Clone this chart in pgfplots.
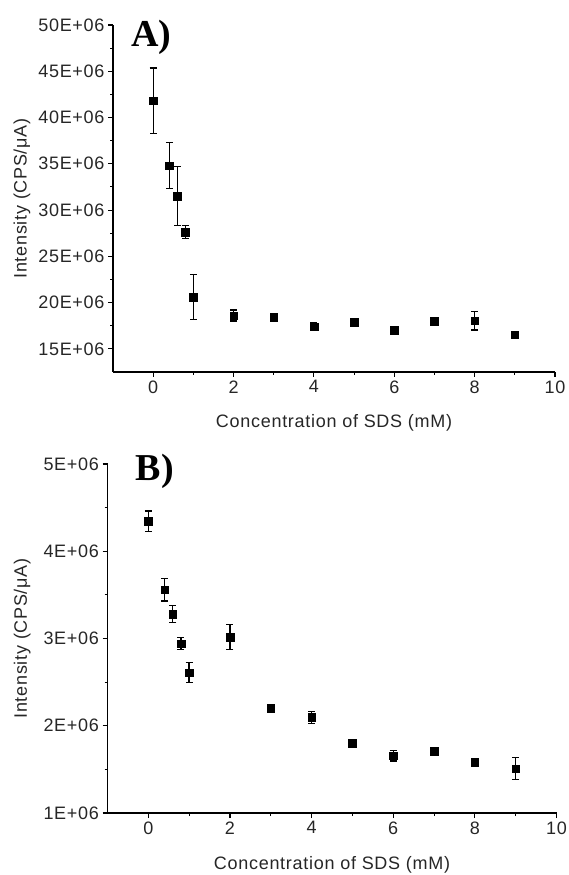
\documentclass[border=0pt]{standalone}
\usepackage{fontspec}
\setmainfont[LetterSpace=4]{Liberation Sans}
\newfontfamily\labfont{Liberation Serif}
\usepackage{pgfplots}
\usepackage{pgfplotstable}
\pgfplotsset{compat=1.18}

\pgfplotstableread{
x y e
0   41.8  3.55
0.4 34.8  2.5
0.6 31.5  3.2
0.8 27.6  0.7
1   20.6  2.4
2   18.6  0.6
3   18.4  0.4
4   17.4  0.4
5   17.85 0.3
6   17.0  0.3
7   18.0  0.4
8   18.05 1.0
9   16.55 0.2
}\dataA

\pgfplotstableread{
x y e
0   4.345 0.115
0.4 3.56  0.13
0.6 3.28  0.095
0.8 2.94  0.07
1   2.61  0.115
2   3.015 0.145
3   2.20  0.04
4   2.095 0.07
5   1.80  0.02
6   1.655 0.06
7   1.71  0.02
8   1.58  0.02
9   1.51  0.13
}\dataB

\pgfplotsset{
  myax/.style={
    scale only axis,
    axis lines=left,
    axis line style={-, line width=1.2pt},
    tick align=outside,
    major tick length=5pt,
    minor tick length=3pt,
    every tick/.style={black, line width=1.1pt},
    minor x tick num=1,
    minor y tick num=1,
    xmin=-1, xmax=10,
    xtick={0,2,...,10},
    tick label style={font=\fontsize{18}{20}\selectfont, text=black!85},
    label style={font=\fontsize{18}{20}\selectfont, text=black!85},
    /pgf/number format/assume math mode=true,
    clip=false,
    xlabel={Concentration of SDS (mM)},
    ylabel={Intensity (CPS/μA)},
  },
  myplot/.style={
    only marks, black, mark=square*, mark size=3.8pt,
    mark options={draw=black, fill=black, solid},
    error bars/.cd, y dir=both, y explicit,
    error bar style={line width=1.3pt, black},
    error mark options={rotate=90, mark size=3.5pt, line width=1.3pt, black},
  },
}

\begin{document}
\begin{tikzpicture}
\useasboundingbox (0pt,0pt) rectangle (569pt,875pt);

\begin{axis}[myax,
  at={(113pt,503pt)}, anchor=south west,
  width=442pt, height=347pt,
  ymin=12.5, ymax=50,
  ytick={15,20,...,50},
  yticklabels={15E+06,20E+06,25E+06,30E+06,35E+06,40E+06,45E+06,50E+06},
  ylabel style={at={(axis description cs:-0.206,0.5)}, anchor=center},
  xlabel style={at={(axis description cs:0.5,-0.147)}, anchor=center},
]
\addplot[myplot] table[x=x, y=y, y error=e] {\dataA};
\node at (axis cs:-0.04,48.7) {\labfont\bfseries\fontsize{38}{40}\selectfont A)};
\end{axis}

\begin{axis}[myax,
  at={(107.5pt,62pt)}, anchor=south west,
  width=449pt, height=349pt,
  ymin=1, ymax=5,
  ytick={1,2,3,4,5},
  yticklabels={1E+06,2E+06,3E+06,4E+06,5E+06},
  ylabel style={at={(axis description cs:-0.19,0.5)}, anchor=center},
  xlabel style={at={(axis description cs:0.5,-0.149)}, anchor=center},
]
\addplot[myplot] table[x=x, y=y, y error=e] {\dataB};
\node at (axis cs:0.16,4.91) {\labfont\bfseries\fontsize{38}{40}\selectfont B)};
\end{axis}
\end{tikzpicture}
\end{document}
